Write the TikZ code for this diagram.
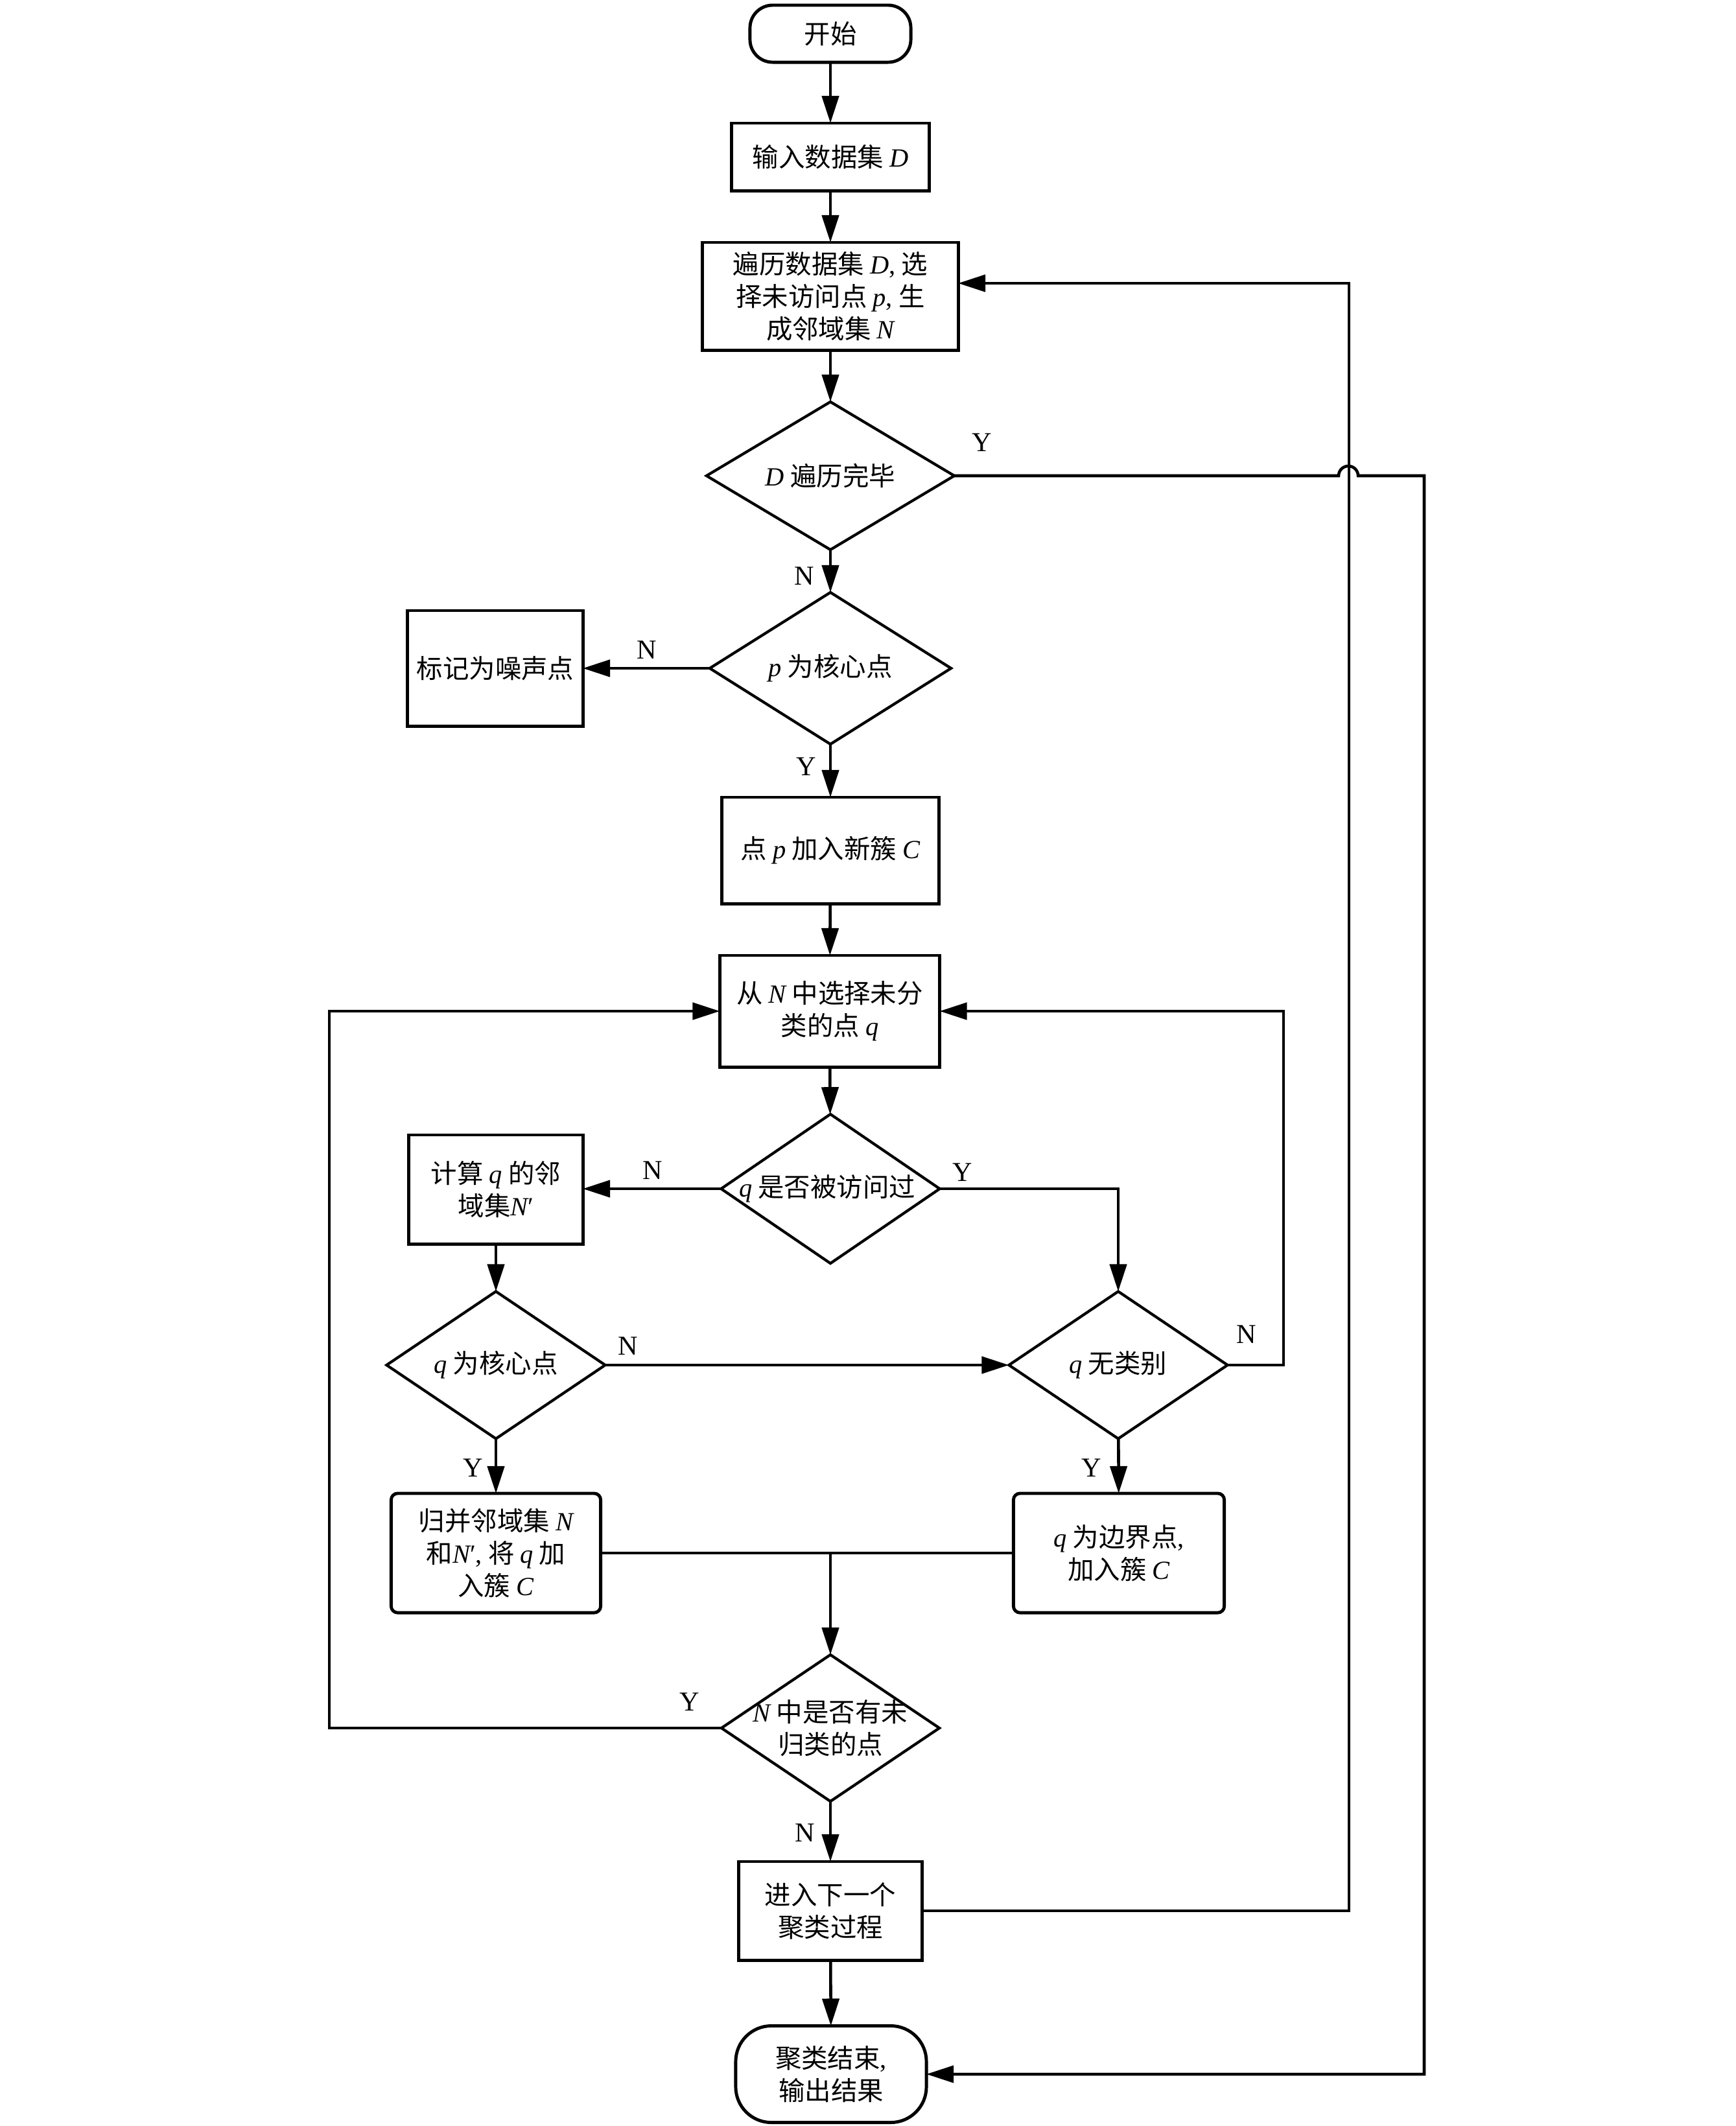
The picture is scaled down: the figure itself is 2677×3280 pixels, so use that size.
\documentclass[tikz,border=0pt]{standalone}
\usepackage{fontspec}
\setmainfont{Liberation Serif}
\newfontfamily\cjk{Noto Sans CJK SC}
\usetikzlibrary{arrows.meta,shapes.geometric}
\newcommand\mv[1]{{\rmfamily\itshape #1}}
\newcommand\cm{{\rmfamily ,}}
\begin{document}
\begin{tikzpicture}[x=0.01cm,y=-0.01cm,
  every node/.style={inner sep=0pt, outer sep=0pt},
  txt/.style={font=\cjk\fontsize{11.5}{14.2}\selectfont, align=center},
  box/.style={txt, draw, line width=1.4pt, rectangle},
  rbox/.style={box, rounded corners=0.1cm},
  tstart/.style={box, rounded corners=0.35cm},
  tend/.style={box, rounded corners=0.55cm},
  dia/.style={draw, diamond, line width=1.2pt},
  lab/.style={font=\rmfamily\fontsize{12}{14}\selectfont},
  ln/.style={line width=1.3pt},
  arr/.style={line width=1.3pt, -{Triangle[length=0.42cm,width=0.26cm]}}]
\useasboundingbox (0,0) rectangle (2677,3280);

% nodes
\node[tstart, minimum width=2.48cm, minimum height=0.88cm] (start) at (1281,52) {开始};
\node[box, minimum width=3.04cm, minimum height=1.04cm] (in) at (1281,242) {输入数据集 \mv{D}};
\node[box, minimum width=3.94cm, minimum height=1.66cm] (trav) at (1281,457)
  {遍历数据集 \mv{D}\cm{} 选\\择未访问点 \mv{p}\cm{} 生\\成邻域集 \mv{N}};
\node[dia, minimum width=3.82cm, minimum height=2.28cm] (d1) at (1281,734) {};
\node[txt] (d1t) at (d1) {\mv{D} 遍历完毕};
\node[dia, minimum width=3.72cm, minimum height=2.34cm] (d2) at (1281,1031) {};
\node[txt] (d2t) at (d2) {\mv{p} 为核心点};
\node[box, minimum width=2.70cm, minimum height=1.78cm] (noise) at (764,1031) {标记为噪声点};
\node[box, minimum width=3.34cm, minimum height=1.64cm] (addC) at (1281,1312) {点 \mv{p} 加入新簇 \mv{C}};
\node[box, minimum width=3.39cm, minimum height=1.72cm] (sel) at (1280,1560) {从 \mv{N} 中选择未分\\类的点 \mv{q}};
\node[dia, minimum width=3.37cm, minimum height=2.30cm] (d3) at (1281,1834) {};
\node[txt] (d3t) at (1276,1834) {\mv{q} 是否被访问过};
\node[box, minimum width=2.68cm, minimum height=1.68cm] (calc) at (765,1835) {计算 \mv{q} 的邻\\域集\mv{N}{\rmfamily ′}};
\node[dia, minimum width=3.37cm, minimum height=2.27cm] (d4) at (765,2106) {};
\node[txt] (d4t) at (d4) {\mv{q} 为核心点};
\node[dia, minimum width=3.37cm, minimum height=2.27cm] (d5) at (1725,2106) {};
\node[txt] (d5t) at (d5) {\mv{q} 无类别};
\node[rbox, minimum width=3.23cm, minimum height=1.84cm] (merge) at (765,2396)
  {归并邻域集 \mv{N}\\和\mv{N}{\rmfamily ′}\cm{} 将 \mv{q} 加\\入簇 \mv{C}};
\node[rbox, minimum width=3.25cm, minimum height=1.84cm] (border) at (1726,2396)
  {\mv{q} 为边界点\cm\\加入簇 \mv{C}};
\node[dia, minimum width=3.36cm, minimum height=2.26cm] (d6) at (1281,2666) {};
\node[txt] (d6t) at (d6) {\mv{N} 中是否有未\\归类的点};
\node[box, minimum width=2.83cm, minimum height=1.52cm] (next) at (1281,2948) {进入下一个\\聚类过程};
\node[tend, minimum width=2.94cm, minimum height=1.49cm] (end) at (1282,3200) {聚类结束\cm\\输出结果};

% helper coordinates
\coordinate (j1) at (2065,734);
\coordinate (j2) at (2095,734);
\coordinate (rY) at (2197,734);
\coordinate (r1) at (1980,2106);
\coordinate (r2) at (2081,2948);
\coordinate (r3) at (2081,437);
\coordinate (l1) at (508,2666);
\coordinate (jn) at (1281,2396);

% connectors
\draw[arr] (start) -- (in);
\draw[arr] (in) -- (trav);
\draw[arr] (trav) -- (d1);
\draw[arr] (d1) -- (d2);
\draw[arr] (d2.west) -- (noise.east);
\draw[arr] (d2) -- (addC);
\draw[arr] (addC) -- (sel);
\draw[arr] (sel) -- (d3);
\draw[arr] (d3.west) -- (d3.west -| calc.east);
\draw[arr] (d3.east) -| (d5.north);
\draw[arr] (calc) -- (d4);
\draw[arr] (d4.east) -- (d5.west);
\draw[arr] (d5.east) -- (r1) |- (sel.east);
\draw[arr] (d4) -- (merge);
\draw[arr] (d5) -- (border);
\draw[ln] (merge.east) -- (border.west);
\draw[arr] (jn) -- (d6.north);
\draw[arr] (d6.west) -- (l1) |- (sel.west);
\draw[arr] (d6) -- (next);
\draw[arr] (next) -- (end);
\draw[arr] (next.east) -- (r2) -- (r3) -- (r3 -| trav.east);
\draw[arr] (d1.east) -- (j1) arc[start angle=180, end angle=0, radius=0.15cm] -- (rY) |- (end.east);

% Y/N labels
\node[lab] (y1) at (1515,683) {Y};
\node[lab] (n1) at (1241,889) {N};
\node[lab] (n2) at (998,1003) {N};
\node[lab] (y2) at (1244,1183) {Y};
\node[lab] (n3) at (1007,1806) {N};
\node[lab] (y3) at (1485,1809) {Y};
\node[lab] (n4) at (969,2077) {N};
\node[lab] (n5) at (1923,2059) {N};
\node[lab] (y4) at (730,2265) {Y};
\node[lab] (y5) at (1684,2265) {Y};
\node[lab] (y6) at (1064,2626) {Y};
\node[lab] (n6) at (1242,2828) {N};
\end{tikzpicture}
\end{document}
